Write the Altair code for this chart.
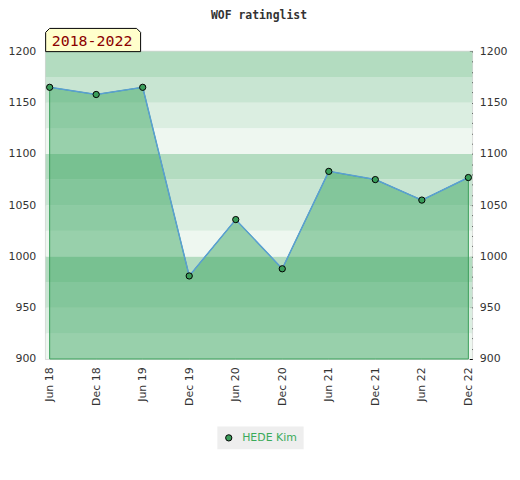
import altair as alt
import pandas as pd

periods = ["Jun 18", "Dec 18", "Jun 19", "Dec 19", "Jun 20", "Dec 20",
           "Jun 21", "Dec 21", "Jun 22", "Dec 22"]
ratings = [1165, 1158, 1165, 981, 1036, 988, 1083, 1075, 1055, 1077]
player = ["HEDE Kim"]
band_lo = [900, 925, 950, 975, 1000, 1025, 1050, 1075, 1100, 1125, 1150, 1175]
band_hi = [925, 950, 975, 1000, 1025, 1050, 1075, 1100, 1125, 1150, 1175, 1200]
right_ticks = list(range(900, 1201, 10))
y_floor = 900
tag_text = ["2018-2022"]
title_text = "WOF ratinglist"

df = pd.DataFrame({"period": periods, "rating": ratings,
                   "player": player * len(periods)})
bands = pd.DataFrame({"lo": band_lo, "hi": band_hi})
bands["shade"] = ((bands["lo"] - 900) % 100) // 25
tag = pd.DataFrame({"label": tag_text})

yscale = alt.Scale(domain=[900, 1200], zero=False, nice=False)
xscale = alt.Scale(padding=0.085)
xenc = alt.X("period:O", sort=periods, scale=xscale, title=None,
             axis=alt.Axis(labelAngle=270, labelAlign="right", labelBaseline="middle",
                           labelPadding=8, ticks=False, domain=False,
                           labelFont="DejaVu Sans", labelFontSize=11, labelColor="#333"))

band_layer = alt.Chart(bands).mark_rect().encode(
    x=alt.value(0), x2=alt.value("width"),
    y=alt.Y("hi:Q", scale=yscale, title=None,
            axis=alt.Axis(values=[900, 950, 1000, 1050, 1100, 1150, 1200], format="d",
                          ticks=False, tickSize=0, domain=False, grid=False,
                          labelPadding=10, labelFont="DejaVu Sans", labelFontSize=11,
                          labelColor="#333")),
    y2="lo:Q",
    fill=alt.Fill("shade:O", legend=None,
                  scale=alt.Scale(domain=[0, 1, 2, 3],
                                  range=["#eef7f0", "#dbeee1", "#c8e5d2", "#b3dcc0"])),
)

base = alt.Chart(df)
area = base.mark_area(fill="rgb(51,162,89)", fillOpacity=0.46,
                      stroke="#3a9e5a", strokeWidth=1).encode(
    x=xenc,
    y=alt.Y("rating:Q", scale=yscale, axis=None),
    y2=alt.datum(y_floor),
)
line = base.mark_line(color="#5a9fd4", strokeWidth=1.5).encode(
    x=xenc,
    y=alt.Y("rating:Q", scale=yscale, axis=None),
)
points = base.mark_point(filled=True, shape="circle", size=40, stroke="black",
                         strokeWidth=1, opacity=1).encode(
    x=xenc,
    y=alt.Y("rating:Q", scale=yscale, title=None,
            axis=alt.Axis(orient="right", values=right_ticks, format="d",
                          labelExpr="datum.value % 50 == 0 ? datum.label : ''",
                          tickSize=3, offset=-3, domain=False, grid=False,
                          tickColor="black", tickWidth=1, tickRound=True,
                          labelPadding=7, labelFont="DejaVu Sans",
                          labelFontSize=11, labelColor="#333")),
    fill=alt.Fill("player:N", title=None,
                  scale=alt.Scale(domain=player, range=["#3a9e5a"]),
                  legend=alt.Legend(orient="none", legendX=173, legendY=378,
                                    fillColor="#eeeeee", padding=6,
                                    symbolType="circle", symbolSize=40,
                                    symbolStrokeColor="black", symbolStrokeWidth=1,
                                    labelColor="#3aaa5a", labelFont="DejaVu Sans",
                                    labelFontSize=11, labelOffset=8)),
)

tag_box = alt.Chart(tag).mark_point(
    shape="M -1 0.2445 L -1 -0.161 L -0.9164 -0.2445 L 0.9164 -0.2445 L 1 -0.161 L 1 0.2445 Z",
    filled=True, fill="#ffffcc", stroke="black", strokeWidth=1, opacity=1, size=9158,
).encode(x=alt.value(47.8), y=alt.value(-11.5))
tag_text_layer = alt.Chart(tag).mark_text(
    font="DejaVu Sans Mono", fontSize=15, color="#8b0000", baseline="alphabetic",
    align="center",
).encode(x=alt.value(46.7), y=alt.value(-5), text="label:N")

chart = alt.layer(band_layer, area, line, points, tag_box, tag_text_layer).resolve_scale(
    y="shared", fill="independent").resolve_axis(y="independent").properties(
    width=430, height=310,
    title=alt.Title(title_text, font="DejaVu Sans Mono", fontSize=11.5, fontWeight="bold",
                    color="#333", offset=5),
    padding={"left": 0, "top": 0, "right": 5, "bottom": 5},
).configure_view(stroke="#d4d4d4", strokeWidth=1.5)

chart.save("out.html", embed_options={"renderer": "svg", "actions": False})
